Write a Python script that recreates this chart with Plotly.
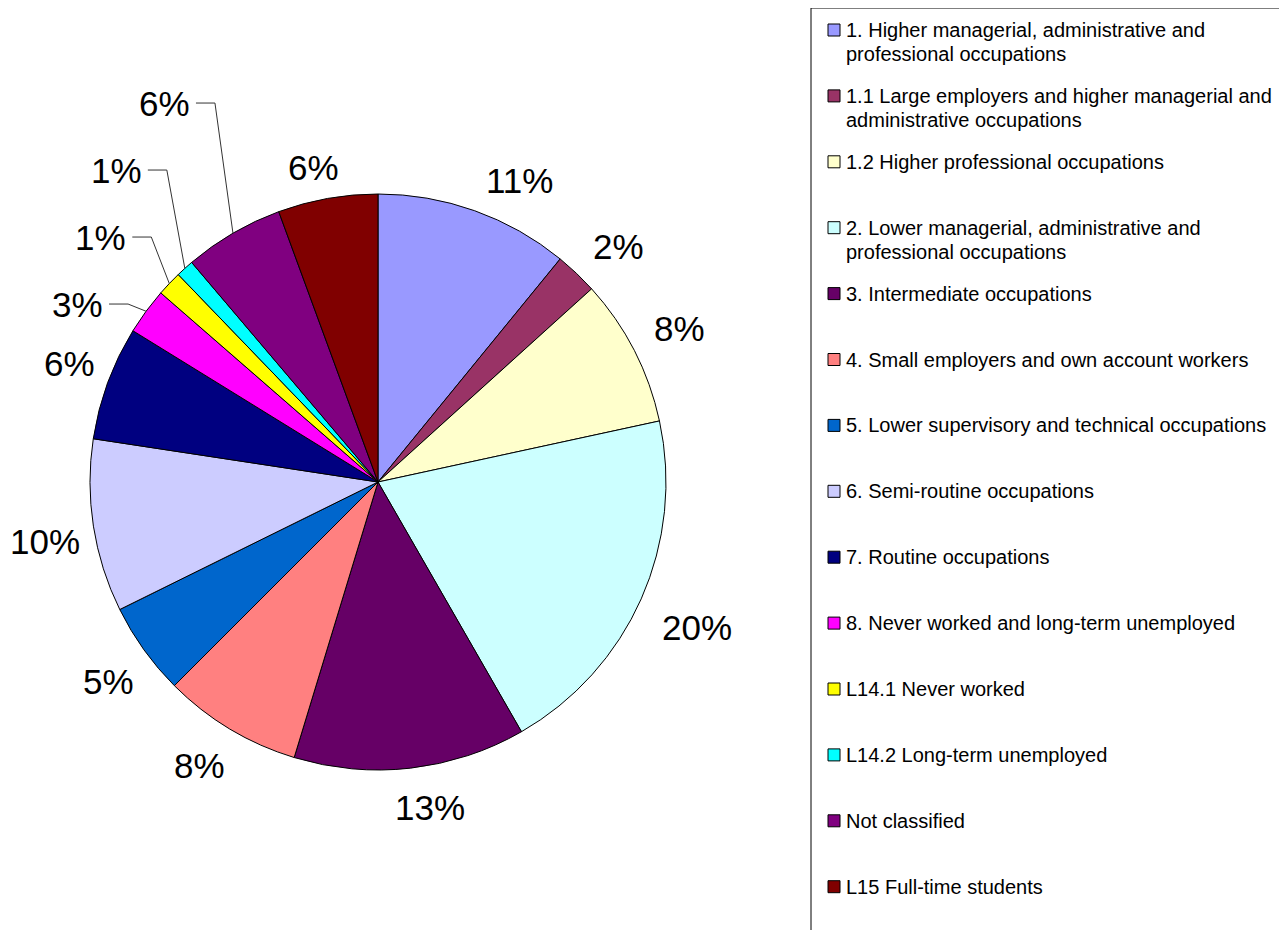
import math
import plotly.graph_objects as go

# ---- data ----
categories = [
    "1. Higher managerial, administrative and\nprofessional occupations",
    "1.1 Large employers and higher managerial and\nadministrative occupations",
    "1.2 Higher professional occupations",
    "2. Lower managerial, administrative and\nprofessional occupations",
    "3. Intermediate occupations",
    "4. Small employers and own account workers",
    "5. Lower supervisory and technical occupations",
    "6. Semi-routine occupations",
    "7. Routine occupations",
    "8. Never worked and long-term unemployed",
    "L14.1 Never worked",
    "L14.2 Long-term unemployed",
    "Not classified",
    "L15 Full-time students",
]
shares = [10.9, 2.4, 8.3, 20.1, 13.0, 7.8, 5.2, 9.7, 6.4, 2.6, 1.4, 1.0, 5.6, 5.6]
colors = [
    "#9999FF", "#993366", "#FFFFCC", "#CCFFFF", "#660066", "#FF8080", "#0066CC",
    "#CCCCFF", "#000080", "#FF00FF", "#FFFF00", "#00FFFF", "#800080", "#800000",
]
# slices whose labels are moved out with a leader line
leader_slices = [
    "8. Never worked and long-term unemployed",
    "L14.1 Never worked",
    "L14.2 Long-term unemployed",
    "Not classified",
]

W, H = 1287, 930
OFF = 8  # page offset of the figure in the screenshot
FONT = "Arial, Liberation Sans, sans-serif"

def px_x(x):
    return (x - OFF) / W

def px_y(y):
    return 1 - (y - OFF) / H

# pie geometry (screen pixels)
cx, cy, r = 378, 482, 288
labels_flat = [c.replace("\n", " ") for c in categories]

fig = go.Figure()
fig.add_trace(go.Pie(
    labels=labels_flat,
    values=shares,
    sort=False,
    direction="clockwise",
    rotation=0,
    marker=dict(colors=colors, line=dict(color="black", width=1)),
    textinfo="none",
    showlegend=False,
    hoverinfo="label+percent",
    domain=dict(x=[px_x(cx - r), px_x(cx + r)], y=[px_y(cy + r), px_y(cy - r)]),
))

# ---- percentage labels placed from the slice angles ----
total = sum(shares)
annotations = []
shapes = []
LBL_SIZE = 35
R_LBL = 306
BOX_H = 35
DX0, DY0 = 4, 4
STACK = 67
cum = 0.0
prev_y = None
for lab, v in zip(labels_flat, shares):
    frac = v / total
    theta = 2 * math.pi * (cum + frac / 2)
    cum += frac
    s, c = math.sin(theta), math.cos(theta)
    txt = f"{int(frac * 100 + 0.5)}%"
    w = LBL_SIZE * (0.556 * (len(txt) - 1) + 0.889)
    if lab in leader_slices:
        ex, ey = cx + r * s, cy - r * c
        ly = prev_y - STACK
        kx = ex - 18
        hx = kx - 19
        shapes.append(dict(type="path", xref="paper", yref="paper",
                           path=f"M {px_x(ex)},{px_y(ey)} L {px_x(kx)},{px_y(ly)} L {px_x(hx)},{px_y(ly)}",
                           line=dict(color="#333333", width=1)))
        annotations.append(dict(x=px_x(hx - 4), y=px_y(ly), xref="paper", yref="paper",
                                text=txt, showarrow=False, xanchor="right", yanchor="middle",
                                font=dict(family=FONT, size=LBL_SIZE, color="black")))
        prev_y = ly
    else:
        px_, py_ = cx + R_LBL * s, cy - R_LBL * c
        lx = px_ + w / 2 * max(-1, min(1, s / 0.3)) + DX0
        ly = py_ - BOX_H / 2 * max(-1, min(1, c / 0.3)) + DY0
        annotations.append(dict(x=px_x(lx), y=px_y(ly), xref="paper", yref="paper",
                                text=txt, showarrow=False, xanchor="center", yanchor="middle",
                                font=dict(family=FONT, size=LBL_SIZE, color="black")))
        prev_y = ly + 8

# ---- legend drawn as text + swatches ----
leg_left, leg_right, leg_top = 811, 1281, 8
item_y0, item_step, line_gap = 30, 65.9, 24
shapes.append(dict(type="rect", xref="paper", yref="paper",
                   x0=px_x(leg_left), x1=px_x(leg_right), y0=px_y(leg_top), y1=-0.02,
                   line=dict(color="black", width=1), fillcolor="rgba(0,0,0,0)"))
for i, (cat, col) in enumerate(zip(categories, colors)):
    yc = item_y0 + i * item_step
    shapes.append(dict(type="rect", xref="paper", yref="paper",
                       x0=px_x(828), x1=px_x(840), y0=px_y(yc + 6), y1=px_y(yc - 6),
                       fillcolor=col, line=dict(color="black", width=1)))
    for j, line in enumerate(cat.split("\n")):
        annotations.append(dict(
            x=px_x(845), y=px_y(yc + j * line_gap), xref="paper", yref="paper",
            text=line, showarrow=False, xanchor="left", yanchor="middle",
            font=dict(family=FONT, size=20, color="black"), borderpad=0,
        ))

fig.update_layout(
    width=W, height=H,
    margin=dict(l=0, r=0, t=0, b=0),
    paper_bgcolor="white", plot_bgcolor="white",
    shapes=shapes, annotations=annotations,
    font=dict(family=FONT),
)

fig.write_html("out.html")
